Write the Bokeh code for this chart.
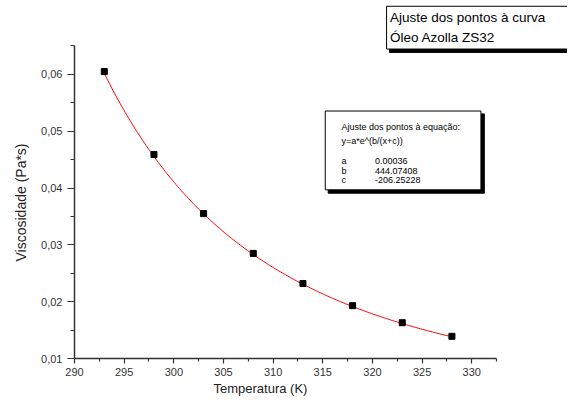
import numpy as np
from bokeh.plotting import figure
from bokeh.models import Range1d, FixedTicker, CustomJSTickFormatter, Label, Title
from bokeh.embed import file_html
from bokeh.resources import INLINE

# ---- data ----
temperatura = [293, 298, 303, 308, 313, 318, 323, 328]
viscosidade = [0.0605, 0.0459, 0.0355, 0.0285, 0.0232, 0.0193, 0.0163, 0.0139]
fit_a = 0.00036
fit_b = 444.07408
fit_c = -206.25228
x_ticks = [290, 295, 300, 305, 310, 315, 320, 325, 330]
x_minor = [292.5, 297.5, 302.5, 307.5, 312.5, 317.5, 322.5, 327.5, 332.5]
y_ticks = [0.01, 0.02, 0.03, 0.04, 0.05, 0.06]
y_minor = [0.015, 0.025, 0.035, 0.045, 0.055, 0.065]
legend_lines = ["Ajuste dos pontos à curva", "Óleo Azolla ZS32"]
fit_title = ["Ajuste dos pontos à equação:", "y=a*e^(b/(x+c))"]
param_names = ["a", "b", "c"]
param_values = ["0.00036", "444.07408", "-206.25228"]

# ---- layout ----
W, H = 567, 398
SX, SY = W / 583, H / 414          # reference px -> canvas px
X0_REF, XS_REF = 76.2, 10.21        # ref px of 290 K, ref px per K
Y0_REF, YS_REF = 372.5, 5912.0      # ref px of 0.01, ref px per Pa*s
LEFT = round(X0_REF * SX)
BOTTOM = H - round(Y0_REF * SY)


def rx(xref):
    return 290 + (xref - X0_REF) / XS_REF


def ry(yref):
    return 0.01 + (Y0_REF - yref) / YS_REF


p = figure(width=W, height=H, output_backend="svg", toolbar_location=None,
           x_range=Range1d(290, rx(583)), y_range=Range1d(0.01, ry(0)),
           min_border_left=LEFT, min_border_bottom=BOTTOM,
           min_border_top=0, min_border_right=0,
           background_fill_color="white", border_fill_color="white")
p.outline_line_color = None
p.grid.visible = False

FONT = "Liberation Sans"
AX = "#333333"

xa = p.xaxis[0]
xa.bounds = (290, 332.5)
xa.ticker = FixedTicker(ticks=x_ticks, minor_ticks=x_minor)
xa.formatter = CustomJSTickFormatter(code="return tick.toFixed(0);")
xa.major_tick_in = 0
xa.major_tick_out = 5
xa.minor_tick_in = 0
xa.minor_tick_out = 3
xa.axis_line_width = 1.5
xa.axis_line_color = AX
xa.major_tick_line_color = AX
xa.minor_tick_line_color = AX
xa.major_tick_line_width = 1.2
xa.minor_tick_line_width = 1.2
xa.major_label_text_font = FONT
xa.major_label_text_font_size = "11px"
xa.major_label_text_color = AX
xa.major_label_standoff = 4

ya = p.yaxis[0]
ya.bounds = (0.01, 0.065)
ya.ticker = FixedTicker(ticks=y_ticks, minor_ticks=y_minor)
ya.formatter = CustomJSTickFormatter(code="return tick.toFixed(2).replace('.', ',');")
ya.major_tick_in = 0
ya.major_tick_out = 7
ya.minor_tick_in = 0
ya.minor_tick_out = 4
ya.axis_line_width = 1.5
ya.axis_line_color = AX
ya.major_tick_line_color = AX
ya.minor_tick_line_color = AX
ya.major_tick_line_width = 1.2
ya.minor_tick_line_width = 1.2
ya.major_label_text_font = FONT
ya.major_label_text_font_size = "11px"
ya.major_label_text_color = AX
ya.major_label_standoff = 5

# axis titles as offset titles (so they can sit off the frame centre)
xt = Title(text="Temperatura (K)", align="left", offset=139,
           text_font=FONT, text_font_size="13px", text_font_style="normal",
           text_color="#222222", standoff=0, vertical_align="bottom")
p.add_layout(xt, "below")
yt = Title(text="Viscosidade (Pa*s)", align="left", offset=97,
           text_font=FONT, text_font_size="14px", text_font_style="normal",
           text_color="#222222", standoff=19, vertical_align="bottom")
p.add_layout(yt, "left")

# fitted curve
xf = np.linspace(temperatura[0], temperatura[-1], 200)
yf = fit_a * np.exp(fit_b / (xf + fit_c))
p.line(xf, yf, line_color="red", line_width=1)
p.scatter(temperatura, viscosidade, marker="square", size=6,
          fill_color="black", line_color="black")

# top-right legend box with shadow
p.quad(left=[rx(400)], right=[rx(620)], top=[ry(8.5)], bottom=[ry(54)],
       fill_color="black", line_color="black")
p.quad(left=[rx(397)], right=[rx(617)], top=[ry(6)], bottom=[ry(50.5)],
       fill_color="white", line_color="black", line_width=1)
for i, t in enumerate(legend_lines):
    p.add_layout(Label(x=rx(400.5), y=ry(17.5 + 21 * i), text=t,
                       text_font=FONT, text_font_size="13.5px",
                       text_color="black", text_baseline="middle",
                       text_align="left"))

# fit parameter box with shadow
p.quad(left=[rx(337)], right=[rx(497.5)], top=[ry(118)], bottom=[ry(200.5)],
       fill_color="black", line_color="black")
p.quad(left=[rx(334)], right=[rx(494)], top=[ry(115)], bottom=[ry(197)],
       fill_color="white", line_color="black", line_width=1)
for i, t in enumerate(fit_title):
    p.add_layout(Label(x=rx(350.7), y=ry(132 + 14 * i), text=t,
                       text_font=FONT, text_font_size="9px",
                       text_color="black", text_baseline="middle"))
for i, (n, v) in enumerate(zip(param_names, param_values)):
    yy = ry(167 + 10 * i)
    p.add_layout(Label(x=rx(350.7), y=yy, text=n, text_font=FONT,
                       text_font_size="9px", text_color="black",
                       text_baseline="middle"))
    p.add_layout(Label(x=rx(385), y=yy, text=v, text_font=FONT,
                       text_font_size="9px", text_color="black",
                       text_baseline="middle"))

open("out.html", "w").write(file_html(p, INLINE))
